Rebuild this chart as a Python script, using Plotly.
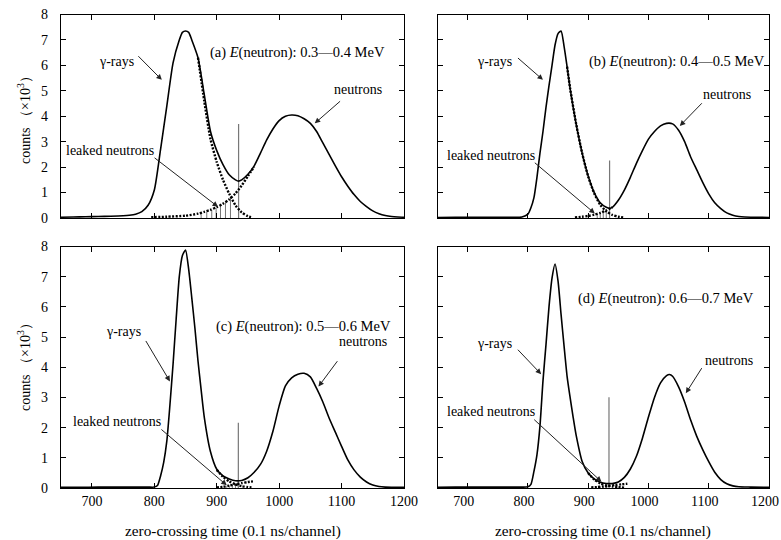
import plotly.graph_objects as go

# ---------------- data ----------------
a_x = [650,670,690,710,730,750,760,770,780,790,800,810,820,830,840,845,850,855,860,870,880,890,900,910,920,930,935,940,950,960,970,980,990,1000,1010,1020,1030,1040,1050,1060,1070,1080,1090,1100,1110,1120,1130,1140,1150,1160,1170,1180,1190,1200]
a_total = [0.03,0.04,0.05,0.06,0.07,0.09,0.11,0.15,0.25,0.5,1.1,2.7,4.4,6.1,7.0,7.3,7.35,7.3,7.0,6.3,4.85,3.4,2.65,2.1,1.7,1.5,1.45,1.5,1.72,2.05,2.55,3.07,3.5,3.83,4.0,4.05,4.02,3.9,3.72,3.4,2.95,2.5,2.05,1.62,1.25,0.92,0.65,0.45,0.28,0.17,0.1,0.06,0.04,0.03]
a_gamma_x = [870,880,890,900,910,920,930,940,950,957]
a_gamma = [6.3,4.6,3.1,2.2,1.5,0.95,0.5,0.22,0.07,0.02]
a_neut_x = [795,820,850,870,880,890,900,910,920,930,940,950,960]
a_neut = [0.03,0.05,0.09,0.17,0.24,0.32,0.43,0.56,0.73,0.97,1.28,1.65,2.02]
a_hatch_x = [875,884,892,899,906,914,922]
a_hatch_h = [0.18,0.24,0.31,0.40,0.49,0.61,0.75]
a_cut_x, a_cut_h = 935, 3.7

b_x = [650,680,710,740,770,790,800,805,810,815,820,825,830,835,840,845,850,855,860,865,870,880,890,900,910,920,930,936,940,950,960,970,980,990,1000,1010,1020,1030,1040,1050,1060,1070,1080,1090,1100,1110,1120,1130,1140,1150,1160,1180,1200]
b_total = [0.02,0.03,0.03,0.03,0.03,0.04,0.15,0.4,0.8,1.6,2.55,3.4,4.35,5.2,6.0,6.8,7.25,7.35,6.75,5.95,5.1,3.7,2.55,1.65,1.0,0.6,0.42,0.38,0.42,0.7,1.1,1.6,2.15,2.65,3.1,3.4,3.62,3.72,3.7,3.45,3.0,2.4,1.9,1.4,0.95,0.6,0.37,0.2,0.11,0.06,0.04,0.03,0.02]
b_gamma_x = [865,870,880,890,900,910,920,930,940,950,958]
b_gamma = [5.95,5.1,3.7,2.55,1.63,0.97,0.52,0.26,0.12,0.05,0.02]
b_neut_x = [878,890,900,910,920,930,940]
b_neut = [0.02,0.05,0.08,0.13,0.2,0.3,0.42]
b_hatch_x = [915,920,925,930]
b_hatch_h = [0.15,0.2,0.25,0.3]
b_cut_x, b_cut_h = 935.5, 2.26

c_x = [650,680,710,740,770,790,800,805,810,815,820,825,830,835,840,845,850,855,860,865,870,875,880,890,900,910,920,930,940,950,960,970,980,990,1000,1010,1020,1030,1040,1050,1060,1070,1080,1090,1100,1110,1120,1130,1140,1150,1160,1170,1200]
c_total = [0.02,0.02,0.03,0.03,0.03,0.03,0.03,0.08,0.4,0.85,1.55,2.75,4.1,5.6,7.0,7.7,7.88,7.25,6.3,5.3,4.2,3.25,2.35,1.2,0.62,0.4,0.3,0.24,0.25,0.34,0.52,0.78,1.22,1.88,2.72,3.38,3.65,3.77,3.8,3.68,3.3,2.85,2.32,1.85,1.38,0.93,0.6,0.36,0.2,0.1,0.05,0.03,0.02]
c_gamma_x = [900,910,920,930,940,950,958]
c_gamma = [0.6,0.37,0.22,0.12,0.06,0.03,0.01]
c_neut_x = [900,910,920,930,940,950,958]
c_neut = [0.02,0.04,0.08,0.12,0.16,0.2,0.22]
c_hatch_x = [915,920,925,930]
c_hatch_h = [0.07,0.09,0.11,0.13]
c_cut_x, c_cut_h = 934.6, 2.16

d_x = [650,680,710,740,770,790,800,805,810,815,820,825,830,835,840,845,850,855,860,865,870,875,880,890,900,910,920,930,940,950,960,970,980,990,1000,1010,1020,1030,1035,1040,1050,1060,1070,1080,1090,1100,1110,1120,1130,1140,1150,1170,1200]
d_total = [0.02,0.03,0.03,0.03,0.03,0.03,0.04,0.12,0.55,1.1,2.05,3.55,4.75,6.0,6.95,7.42,6.85,5.75,4.7,3.7,3.0,2.35,1.75,0.88,0.5,0.3,0.19,0.15,0.15,0.2,0.35,0.63,1.05,1.65,2.35,3.0,3.48,3.72,3.76,3.7,3.35,2.85,2.25,1.72,1.27,0.87,0.52,0.28,0.14,0.07,0.04,0.03,0.02]
d_gamma_x = [900,910,920,930,940,950,960]
d_gamma = [0.5,0.28,0.15,0.09,0.05,0.03,0.01]
d_neut_x = [905,915,925,935,945,955,965]
d_neut = [0.02,0.03,0.05,0.07,0.1,0.12,0.14]
d_hatch_x = [920,925,930]
d_hatch_h = [0.06,0.08,0.1]
d_cut_x, d_cut_h = 934.5, 3.01

panel_titles = ["(a) <i>E</i>(neutron): 0.3\u20140.4 MeV",
                "(b) <i>E</i>(neutron): 0.4\u20140.5 MeV",
                "(c) <i>E</i>(neutron): 0.5\u20140.6 MeV",
                "(d) <i>E</i>(neutron): 0.6\u20140.7 MeV"]
x_ticks = [700, 800, 900, 1000, 1100, 1200]
y_ticks = [0, 1, 2, 3, 4, 5, 6, 7, 8]

FONT = "Liberation Serif, Times New Roman, serif"

panels = [
    dict(x=a_x, t=a_total, gx=a_gamma_x, g=a_gamma, nx=a_neut_x, n=a_neut,
         hx=a_hatch_x, hh=a_hatch_h, cx=a_cut_x, ch=a_cut_h),
    dict(x=b_x, t=b_total, gx=b_gamma_x, g=b_gamma, nx=b_neut_x, n=b_neut,
         hx=b_hatch_x, hh=b_hatch_h, cx=b_cut_x, ch=b_cut_h),
    dict(x=c_x, t=c_total, gx=c_gamma_x, g=c_gamma, nx=c_neut_x, n=c_neut,
         hx=c_hatch_x, hh=c_hatch_h, cx=c_cut_x, ch=c_cut_h),
    dict(x=d_x, t=d_total, gx=d_gamma_x, g=d_gamma, nx=d_neut_x, n=d_neut,
         hx=d_hatch_x, hh=d_hatch_h, cx=d_cut_x, ch=d_cut_h),
]

fig = go.Figure()
for i, p in enumerate(panels):
    xa = "x" if i == 0 else f"x{i+1}"
    ya = "y" if i == 0 else f"y{i+1}"
    vx, vy = [], []
    for hx, hh in zip(p["hx"], p["hh"]):
        vx += [hx, hx, None]
        vy += [0, hh, None]
    fig.add_trace(go.Scatter(x=vx, y=vy, mode="lines", xaxis=xa, yaxis=ya,
                             line=dict(color="#777777", width=1), showlegend=False))
    fig.add_trace(go.Scatter(x=[p["cx"], p["cx"]], y=[0, p["ch"]], mode="lines",
                             xaxis=xa, yaxis=ya,
                             line=dict(color="#777777", width=1.2), showlegend=False))
    fig.add_trace(go.Scatter(x=p["gx"], y=p["g"], mode="lines", xaxis=xa, yaxis=ya,
                             line=dict(color="black", width=2.4, dash="2px,1.5px", shape="spline", smoothing=0.6),
                             showlegend=False))
    fig.add_trace(go.Scatter(x=p["nx"], y=p["n"], mode="lines", xaxis=xa, yaxis=ya,
                             line=dict(color="black", width=2.4, dash="2px,1.5px", shape="spline", smoothing=0.6),
                             showlegend=False))
    fig.add_trace(go.Scatter(x=p["x"], y=p["t"], mode="lines", xaxis=xa, yaxis=ya,
                             line=dict(color="black", width=1.6, shape="spline", smoothing=0.6),
                             showlegend=False))

W, H = 781, 540
left_dom = [60.7 / W, 404 / W]
right_dom = [437.5 / W, 769 / W]
top_dom = [1 - 218 / H, 1 - 14.5 / H]
bot_dom = [1 - 488 / H, 1 - 246.5 / H]

def xax(dom, anchor, labels, shift=0):
    return dict(domain=dom, anchor=anchor, range=[650, 1200], tickvals=x_ticks,
                showticklabels=labels, ticks="inside", ticklen=5, tickcolor="black",
                showline=True, mirror="ticks", linecolor="black", linewidth=1,
                showgrid=False, zeroline=False, automargin=False,
                ticklabeloverflow="allow", ticklabelshift=shift,
                tickfont=dict(family=FONT, size=14, color="black"))

def yax(dom, anchor, labels):
    return dict(domain=dom, anchor=anchor, range=[0, 8], tickvals=y_ticks,
                showticklabels=labels, ticks="inside", ticklen=5, tickcolor="black",
                showline=True, mirror="ticks", linecolor="black", linewidth=1,
                showgrid=False, zeroline=False, ticklabelstandoff=9, automargin=False,
                tickfont=dict(family=FONT, size=14, color="black"))

fig.update_layout(
    width=W, height=H, margin=dict(l=0, r=0, t=0, b=0, pad=0, autoexpand=False),
    paper_bgcolor="white", plot_bgcolor="white",
    font=dict(family=FONT, size=14, color="black"),
    xaxis=xax(left_dom, "y", False), yaxis=yax(top_dom, "x", True),
    xaxis2=xax(right_dom, "y2", False), yaxis2=yax(top_dom, "x2", False),
    xaxis3=xax(left_dom, "y3", True), yaxis3=yax(bot_dom, "x3", True),
    xaxis4=xax(right_dom, "y4", True, shift=-4), yaxis4=yax(bot_dom, "x4", False),
)

ann = []
ann_pos = [
    dict(t=(1172, 6.5), g=(740, 6.15), gt=(772, 6.42), gh=(812, 5.43),
         n=(1126, 5.04), nt=(1100, 4.64), nh=(1057, 3.72),
         l=(729, 2.65), lt=(798, 2.41), lh=(902, 0.44)),
    dict(t=(1196, 6.15), g=(744, 6.15), gt=(781, 6.34), gh=(825, 5.43),
         n=(1130, 4.84), nt=(1091, 4.57), nh=(1052, 3.62),
         l=(739, 2.45), lt=(809, 2.22), lh=(911, 0.18)),
    dict(t=(1182, 5.36), g=(750, 5.19), gt=(785, 4.92), gh=(825, 3.53),
         n=(1134, 4.85), nt=(1095, 4.25), nh=(1063, 3.36),
         l=(740, 2.2), lt=(809, 1.98), lh=(916, 0.09)),
    dict(t=(1178, 6.27), g=(745, 4.79), gt=(781, 4.63), gh=(822, 3.77),
         n=(1133, 4.24), nt=(1090, 4.02), nh=(1062, 3.14),
         l=(738, 2.53), lt=(808, 2.31), lh=(922, 0.21)),
]
for i, a in enumerate(ann_pos):
    xr = "x" if i == 0 else f"x{i+1}"
    yr = "y" if i == 0 else f"y{i+1}"
    ann.append(dict(x=a["t"][0], y=a["t"][1], xref=xr, yref=yr, text=panel_titles[i],
                    showarrow=False, xanchor="right", yanchor="middle",
                    font=dict(family=FONT, size=14.5)))
    for key, txt in [("g", "\u03b3-rays"), ("n", "neutrons"), ("l", "leaked neutrons")]:
        ann.append(dict(x=a[key][0], y=a[key][1], xref=xr, yref=yr, text=txt,
                        showarrow=False, xanchor="center", yanchor="middle",
                        font=dict(family=FONT, size=14)))
    for tail, head in [(a["gt"], a["gh"]), (a["nt"], a["nh"]), (a["lt"], a["lh"])]:
        ann.append(dict(x=head[0], y=head[1], xref=xr, yref=yr,
                        ax=tail[0], ay=tail[1], axref=xr, ayref=yr, text="",
                        showarrow=True, arrowhead=2, arrowsize=1.1, arrowwidth=1,
                        arrowcolor="#222222", standoff=0))

for yc in [1 - 117 / H, 1 - 364 / H]:
    ann.append(dict(x=24 / W, y=yc, xref="paper", yref="paper",
                    xanchor="center", yanchor="middle",
                    text="counts \uff08\u00d710<sup>3</sup>\uff09", textangle=-90,
                    showarrow=False, font=dict(family=FONT, size=14)))
for xc in [232.5 / W, 603 / W]:
    ann.append(dict(x=xc, y=1 - 531 / H, xref="paper", yref="paper",
                    xanchor="center", yanchor="middle",
                    text="zero-crossing time (0.1 ns/channel)", showarrow=False,
                    font=dict(family=FONT, size=15.3)))

fig.update_layout(annotations=ann)
fig.write_html("out.html", config={"displayModeBar": False},
               post_script="document.body.style.margin='0';document.body.style.padding='0';"
                           "document.documentElement.style.overflow='hidden';")
